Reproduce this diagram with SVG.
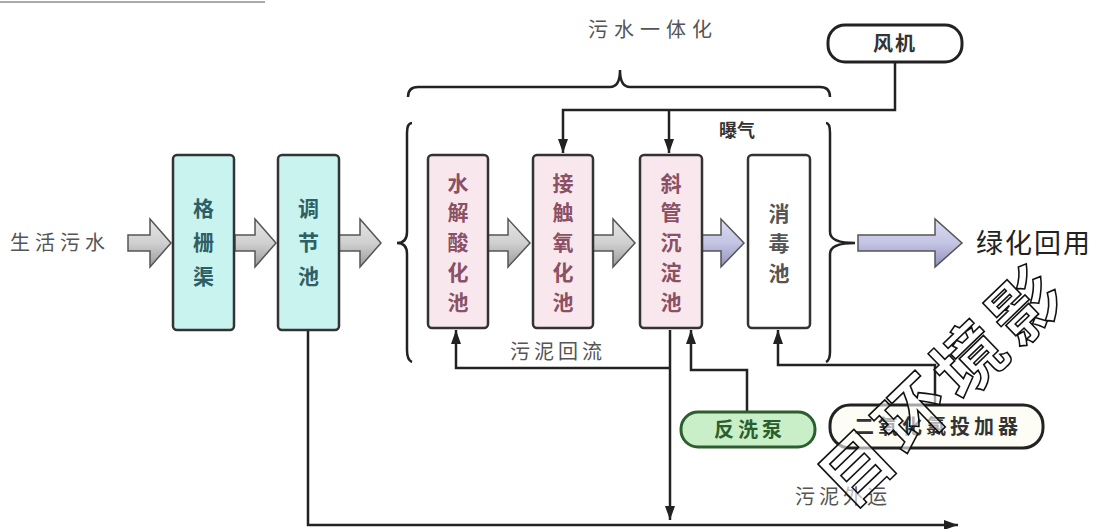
<svg xmlns="http://www.w3.org/2000/svg" width="1096" height="529" viewBox="0 0 1096 529">
<style>
.t{font-family:"Noto Sans CJK SC","Noto Sans",sans-serif;}
.lbl{font-size:20px;fill:#555;}
.box{stroke:#333;stroke-width:2.5;}
.cy{fill:#c8f3ef;}
.pk{fill:#f9e7ee;}
.wh{fill:#ffffff;}
.bt{font-size:21px;font-weight:bold;text-anchor:middle;}
.ln{fill:none;stroke:#222;stroke-width:2.5;}
.ga{fill:url(#gg);stroke:#555;stroke-width:1.5;}
.la{fill:url(#lg);stroke:#555;stroke-width:1.5;}
</style>
<defs>
<linearGradient id="gg" x1="0" y1="0" x2="0" y2="1"><stop offset="0" stop-color="#e6e6e6"/><stop offset="0.5" stop-color="#d0d0d0"/><stop offset="1" stop-color="#9a9a9a"/></linearGradient>
<linearGradient id="lg" x1="0" y1="0" x2="0" y2="1"><stop offset="0" stop-color="#dcdcf2"/><stop offset="0.5" stop-color="#c4c4e4"/><stop offset="1" stop-color="#9090c0"/></linearGradient>
<marker id="ah" viewBox="0 0 14 10" refX="14" refY="5" markerWidth="14" markerHeight="10" orient="auto" markerUnits="userSpaceOnUse"><path d="M0,0 L14,5 L0,10 z" fill="#222"/></marker>
</defs>
<rect width="1096" height="529" fill="#ffffff"/>
<line x1="0" y1="2" x2="265" y2="2" stroke="#aaa" stroke-width="2"/>

<text class="t lbl" x="588" y="37" font-size="21" letter-spacing="6">污水一体化</text>
<text class="t lbl" x="10" y="250" letter-spacing="5">生活污水</text>
<text class="t" x="976" y="253" font-size="27" fill="#222" letter-spacing="2">绿化回用</text>
<text class="t" x="719" y="137" font-size="18" font-weight="bold" fill="#333">曝气</text>
<text class="t lbl" x="510" y="359" letter-spacing="4">污泥回流</text>
<text class="t lbl" x="795" y="504" letter-spacing="4">污泥外运</text>

<g id="connectors">
<path class="ln" d="M408,97 Q408,87 418,87 L610,87 Q620,87 620,70 Q620,87 630,87 L820,87 Q830,87 830,97"/>
<path class="ln" d="M412,123 Q407,123 407,133 L407,232 Q407,243 397,243 Q407,243 407,254 L407,350 Q407,360 412,362"/>
<path class="ln" d="M826,123 Q830,123 830,133 L830,232 Q830,243 855,243 Q830,243 830,254 L830,352 Q830,360 826,362"/>
<path class="ln" d="M895,62 V110 H563 V153" marker-end="url(#ah)"/>
<path class="ln" d="M669,110 V153" marker-end="url(#ah)"/>
<path class="ln" d="M670,330 V520" marker-end="url(#ah)"/>
<path class="ln" d="M670,368 H456 V330" marker-end="url(#ah)"/>
<path class="ln" d="M747,412 V370 H691 V330" marker-end="url(#ah)"/>
<path class="ln" d="M935,405 V365 H778 V330" marker-end="url(#ah)"/>
<path class="ln" d="M308,330 V525 H958" marker-end="url(#ah)"/>
<path class="ga" d="M128,235 H150 V219 L171,243 L150,267 V251 H128 Z"/>
<path class="ga" d="M235,235 H255 V219 L276,243 L255,267 V251 H235 Z"/>
<path class="ga" d="M339,235 H360 V219 L381,243 L360,267 V251 H339 Z"/>
<path class="ga" d="M488,235 H508 V219 L530,243 L508,267 V251 H488 Z"/>
<path class="ga" d="M593,235 H613 V219 L635,243 L613,267 V251 H593 Z"/>
<path class="la" d="M702,235 H721 V219 L744,243 L721,267 V251 H702 Z"/>
<path class="la" d="M858,235 H935 V219 L962,243 L935,267 V251 H858 Z"/>
</g>

<g id="n-gesha">
<rect class="box cy" x="173" y="155" width="61" height="175" rx="4"/>
<text class="t bt" fill="#2f5f66"><tspan x="203.5" y="216">格</tspan><tspan x="203.5" y="250">栅</tspan><tspan x="203.5" y="284">渠</tspan></text>
</g>
<g id="n-tiaojie">
<rect class="box cy" x="278" y="155" width="61" height="175" rx="4"/>
<text class="t bt" fill="#2f5f66"><tspan x="308.5" y="216">调</tspan><tspan x="308.5" y="250">节</tspan><tspan x="308.5" y="284">池</tspan></text>
</g>
<g id="n-shuijie">
<rect class="box pk" x="428" y="155" width="60" height="173" rx="4"/>
<text class="t bt" fill="#8a5064"><tspan x="458" y="191">水</tspan><tspan x="458" y="220">解</tspan><tspan x="458" y="250">酸</tspan><tspan x="458" y="280">化</tspan><tspan x="458" y="310">池</tspan></text>
</g>
<g id="n-jiechu">
<rect class="box pk" x="533" y="155" width="60" height="173" rx="4"/>
<text class="t bt" fill="#8a5064"><tspan x="563" y="191">接</tspan><tspan x="563" y="220">触</tspan><tspan x="563" y="250">氧</tspan><tspan x="563" y="280">化</tspan><tspan x="563" y="310">池</tspan></text>
</g>
<g id="n-xieguan">
<rect class="box pk" x="640" y="155" width="62" height="173" rx="4"/>
<text class="t bt" fill="#8a5064"><tspan x="671" y="191">斜</tspan><tspan x="671" y="220">管</tspan><tspan x="671" y="250">沉</tspan><tspan x="671" y="280">淀</tspan><tspan x="671" y="310">池</tspan></text>
</g>
<g id="n-xiaodu">
<rect class="box wh" x="748" y="155" width="62" height="173" rx="4"/>
<text class="t bt" fill="#555"><tspan x="779" y="221">消</tspan><tspan x="779" y="251">毒</tspan><tspan x="779" y="281">池</tspan></text>
</g>
<g id="n-fengji">
<rect x="828" y="25" width="134" height="37" rx="17" fill="#fff" stroke="#222" stroke-width="3"/>
<text class="t" x="895" y="51" font-size="20" font-weight="bold" fill="#333" text-anchor="middle" letter-spacing="2">风机</text>
</g>
<g id="n-pump">
<rect x="681" y="412" width="134" height="35" rx="17" fill="#c8efc8" stroke="#2d5e2d" stroke-width="3"/>
<text class="t" x="750" y="437" font-size="20" font-weight="bold" fill="#2d5e2d" text-anchor="middle" letter-spacing="4">反洗泵</text>
</g>
<g id="n-clo2">
<rect x="830" y="405" width="213" height="43" rx="20" fill="#fdfdf6" stroke="#222" stroke-width="3"/>
<text class="t" x="938" y="434" font-size="20" font-weight="bold" fill="#333" text-anchor="middle" letter-spacing="4">二氧化氯投加器</text>
</g>

<g id="watermark" transform="translate(858,468) rotate(-44)">
<text class="t" x="-36" y="25" font-size="70" font-weight="bold" letter-spacing="8" fill="#fff" fill-opacity="0.6" stroke="#111" stroke-width="1.6">目环境影</text>
</g>
</svg>
